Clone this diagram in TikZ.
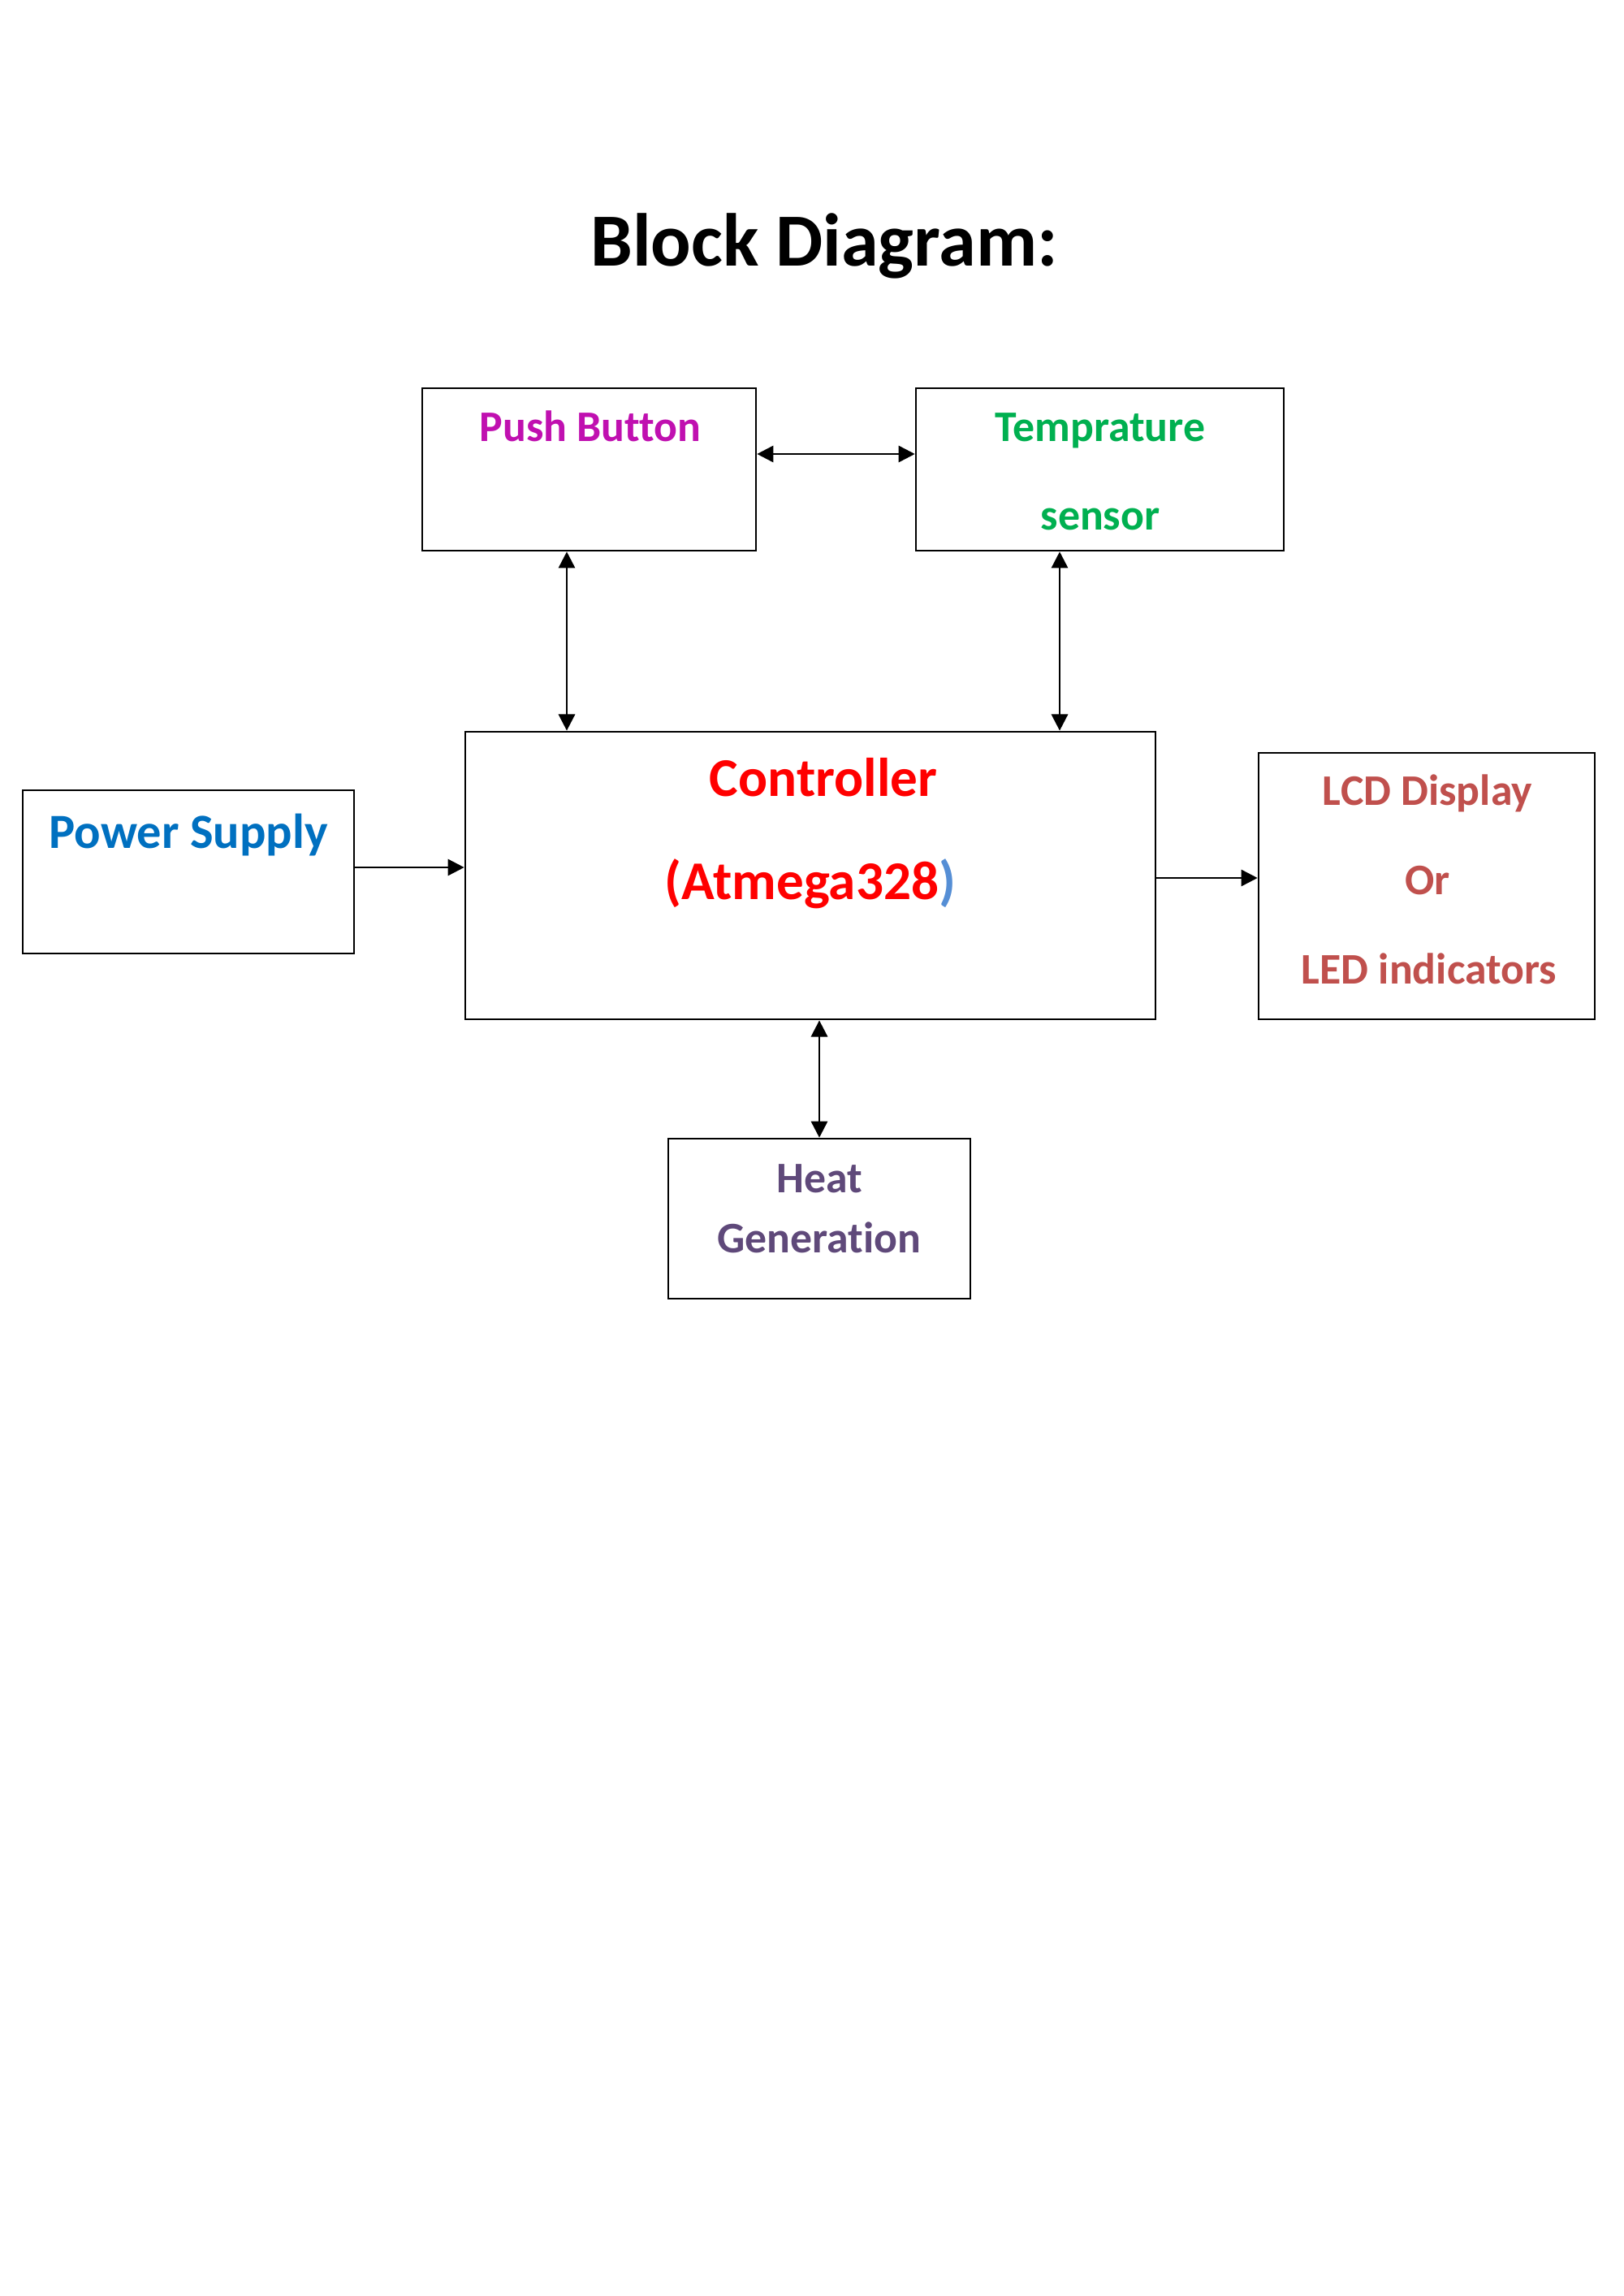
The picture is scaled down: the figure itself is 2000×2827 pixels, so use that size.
\documentclass[tikz,border=0pt]{standalone}
\usepackage{fontspec}
\setmainfont{Carlito}[Ligatures=NoCommon]
\usetikzlibrary{arrows.meta,calc}

\definecolor{pbcol}{RGB}{192,16,176}
\definecolor{tscol}{RGB}{0,176,80}
\definecolor{ctrlcol}{RGB}{255,0,0}
\definecolor{parcol}{RGB}{85,142,213}
\definecolor{pscol}{RGB}{0,112,192}
\definecolor{lcdcol}{RGB}{192,80,77}
\definecolor{heatcol}{RGB}{95,73,122}

\begin{document}
\begin{tikzpicture}[x=0.29765pt,y=-0.29765pt, blk/.style={draw,line width=0.8pt,inner sep=0pt}, lbl/.style={anchor=base,inner sep=0pt,font=\bfseries\fontsize{16}{19}\selectfont}, oneway/.style={line width=0.8pt,-{Triangle[length=6pt,width=6pt]}}, twoway/.style={line width=0.8pt,{Triangle[length=6pt,width=6pt]}-{Triangle[length=6pt,width=6pt]}}]

	\fill[white] (0,0) rectangle (2000,2827);

	\node[lbl,font=\bfseries\fontsize{27.5}{32}\selectfont] (title) at (1015,328) {Block Diagram:};

	\node[blk,minimum width=122.3pt,minimum height=59.5pt] (pb) at (725.5,578) {};
	\node[blk,minimum width=134.8pt,minimum height=59.5pt] (ts) at (1354.5,578) {};
	\node[blk,minimum width=253pt,minimum height=105.4pt] (ctrl) at (998,1078) {};
	\node[blk,minimum width=121.4pt,minimum height=59.8pt] (ps) at (232,1073.5) {};
	\node[blk,minimum width=123.2pt,minimum height=97.6pt] (lcd) at (1757,1091) {};
	\node[blk,minimum width=110.7pt,minimum height=58.6pt] (heat) at (1009,1500.5) {};

	\node[lbl,text=pbcol] (pbtxt) at (727,543) {Push Button};
	\node[lbl,text=tscol] (tstxt1) at (1355,543) {Temprature};
	\node[lbl,text=tscol] (tstxt2) at (1355,652) {sensor};
	\node[lbl,text=ctrlcol,font=\bfseries\fontsize{20}{24}\selectfont] (ctrltxt1) at (1014,980) {Controller};
	\node[lbl,text=ctrlcol,font=\bfseries\fontsize{20}{24}\selectfont] (ctrltxt2) at (998,1107) {(Atmega328\textcolor{parcol}{)}};
	\node[lbl,text=pscol,font=\bfseries\fontsize{18}{22}\selectfont] (pstxt) at (232,1044) {Power Supply};
	\node[lbl,text=lcdcol] (lcdtxt1) at (1758,991) {LCD Display};
	\node[lbl,text=lcdcol] (lcdtxt2) at (1758,1101) {Or};
	\node[lbl,text=lcdcol] (lcdtxt3) at (1760,1211) {LED indicators};
	\node[lbl,text=heatcol] (heattxt1) at (1009,1468) {Heat};
	\node[lbl,text=heatcol] (heattxt2) at (1009,1542) {Generation};

	\coordinate (pbr) at ($(pb.east)+(0,-19)$);
	\coordinate (pbd) at ($(pb.south)+(-27.5,0)$);
	\coordinate (tsd) at ($(ts.south)+(-49.5,0)$);
	\coordinate (psr) at ($(ps.east)+(0,-5.5)$);
	\coordinate (ctrlr) at ($(ctrl.east)+(0,3)$);

	\draw[twoway] (pbr) -- (pbr -| ts.west);
	\draw[twoway] (pbd) -- (pbd |- ctrl.north);
	\draw[twoway] (tsd) -- (tsd |- ctrl.north);
	\draw[oneway] (psr) -- (psr -| ctrl.west);
	\draw[oneway] (ctrlr) -- (ctrlr -| lcd.west);
	\draw[twoway] (ctrl.south -| heat.north) -- (heat.north);
\end{tikzpicture}
\end{document}
